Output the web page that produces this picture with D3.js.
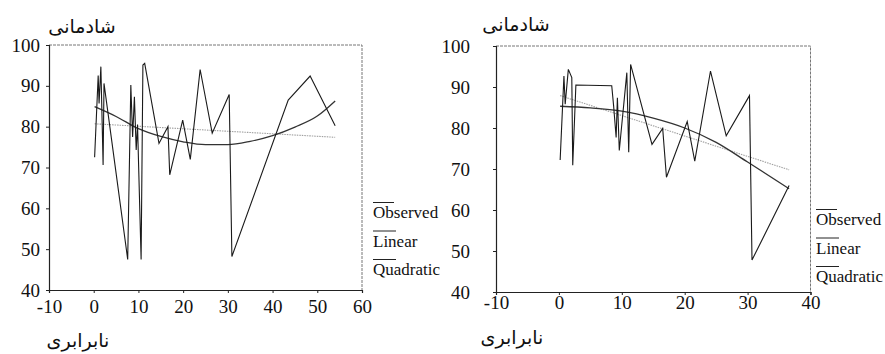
<!DOCTYPE html>
<html>
<head>
<meta charset="utf-8">
<script src="https://cdn.jsdelivr.net/npm/d3@7"></script>
<style>
  body { margin: 0; background: #fff; }
  svg { display: block; }
  .legend text { font-family: "Liberation Serif", "Times New Roman", serif; font-size: 17px; fill: #111; }
  .fa { font-family: "DejaVu Sans", sans-serif; font-size: 19px; fill: #111; }
</style>
</head>
<body>
<div id="chart"></div>
<script>
// tick labels
const yTicks = [40, 50, 60, 70, 80, 90, 100];
const leftXTicks = [-10, 0, 10, 20, 30, 40, 50, 60];
const rightXTicks = [-10, 0, 10, 20, 30, 40];
const legendLabels = ["Observed", "Linear", "Quadratic"];
const yTitle = "شادمانی";
const xTitle = "نابرابری";

// left panel, [x, y]
const leftObserved = [
  [0.2, 72.5], [1.0, 92.5], [1.2, 85.7], [1.6, 94.7], [2.1, 70.6], [2.3, 90.6],
  [7.6, 47.5], [8.3, 90.2], [8.7, 77.5], [9.1, 87.3], [9.5, 74.3], [9.8, 80.5],
  [10.6, 47.5], [11.0, 95.1], [11.4, 95.5], [14.6, 75.9], [16.6, 80.0], [17.0, 68.2],
  [19.9, 81.6], [21.6, 72.0], [23.8, 94.0], [26.5, 78.4], [30.3, 87.9], [30.9, 48.2],
  [43.5, 86.5], [48.4, 92.4], [54.0, 80.2]
];
const leftLinear = [[0.2, 80.7], [54.0, 77.4]];
const leftQuadratic = [
  [0.2, 84.9], [5, 82.5], [10, 79.5], [15, 77.6], [20, 76.3], [25, 75.6],
  [30, 75.6], [35, 76.4], [40, 77.8], [45, 79.9], [50, 82.6], [54.0, 86.3]
];

// right panel
const rightObserved = [
  [0.2, 72.2], [0.8, 92.7], [1.0, 85.8], [1.5, 94.3], [2.05, 92.3], [2.2, 70.9],
  [2.7, 90.5], [8.4, 90.3], [8.7, 85.4], [9.1, 77.7], [9.3, 87.4], [9.6, 74.5],
  [10.8, 93.5], [11.1, 74.1], [11.4, 95.5], [14.8, 76.0], [16.5, 79.9], [17.1, 68.0],
  [20.4, 81.6], [21.6, 71.9], [24.1, 93.9], [26.6, 78.1], [30.3, 87.9], [30.7, 47.8],
  [36.6, 66.0]
];
const rightLinear = [[0.2, 87.9], [36.6, 69.8]];
const rightQuadratic = [
  [0.2, 85.3], [5, 84.9], [10, 84.1], [15, 82.4], [20, 80.0], [25, 76.5],
  [30, 71.7], [36.6, 65.2]
];

const width = 885, height = 354;
const svg = d3.select("#chart").append("svg")
  .attr("width", width)
  .attr("height", height);

function drawPanel(cfg) {
  const x = d3.scaleLinear().domain([cfg.xTicks[0], cfg.xTicks[cfg.xTicks.length - 1]]).range([cfg.left, cfg.right]);
  const y = d3.scaleLinear().domain([40, 100]).range([cfg.bottom, cfg.top]);
  const g = svg.append("g");

  // top / right frame, thin and speckled like the scan
  g.append("path")
    .attr("d", `M${cfg.left},${cfg.top}H${cfg.right}V${cfg.bottom}`)
    .attr("fill", "none")
    .attr("stroke", "#666")
    .attr("stroke-width", 0.9)
    .attr("stroke-dasharray", "3,1");

  // plain hyphen for negatives, as in the scan
  const fmt = d => String(d);
  const xAxis = g.append("g")
    .attr("transform", `translate(0,${cfg.bottom})`)
    .call(d3.axisBottom(x).tickValues(cfg.xTicks).tickSize(3).tickPadding(cfg.xPad).tickFormat(fmt));
  const yAxis = g.append("g")
    .attr("transform", `translate(${cfg.left},0)`)
    .call(d3.axisLeft(y).tickValues(yTicks).tickSize(3).tickPadding(cfg.yPad).tickFormat(fmt));
  [xAxis, yAxis].forEach(a => {
    a.attr("font-family", "Liberation Serif").attr("font-size", 19);
    a.selectAll(".tick text").attr("fill", "#111");
    a.select(".domain").attr("stroke", "#222").attr("stroke-width", 1.2);
    a.selectAll(".tick line").attr("stroke", "#222");
  });

  const line = d3.line().x(d => x(d[0])).y(d => y(d[1]));
  const smooth = d3.line().curve(d3.curveMonotoneX).x(d => x(d[0])).y(d => y(d[1]));

  g.append("path").datum(cfg.linear)
    .attr("d", line)
    .attr("fill", "none")
    .attr("stroke", "#a0a0a0")
    .attr("stroke-width", 1.1)
    .attr("stroke-dasharray", "1.5,1");

  g.append("path").datum(cfg.quadratic)
    .attr("d", smooth)
    .attr("fill", "none")
    .attr("stroke", "#333")
    .attr("stroke-width", 1.3);

  g.append("path").datum(cfg.observed)
    .attr("d", line)
    .attr("fill", "none")
    .attr("stroke", "#1a1a1a")
    .attr("stroke-width", 1.1)
    .attr("stroke-linejoin", "miter");

  // legend: label with a short rule above
  const leg = g.append("g").attr("class", "legend")
    .attr("transform", `translate(${cfg.legendX},${cfg.legendY})`);
  legendLabels.forEach((lab, i) => {
    const row = leg.append("g").attr("transform", `translate(0,${i * cfg.legendStep})`);
    row.append("line")
      .attr("x1", 0).attr("x2", lab === "Observed" ? 21 : 23)
      .attr("y1", 0).attr("y2", 0)
      .attr("stroke", "#222").attr("stroke-width", 1);
    row.append("text").attr("x", 0).attr("y", 15.5).text(lab);
  });

  g.append("text").attr("class", "fa")
    .attr("x", cfg.titleX).attr("y", cfg.titleY)
    .attr("text-anchor", "middle")
    .attr("direction", "rtl")
    .text(yTitle);
  g.append("text").attr("class", "fa")
    .attr("x", cfg.xTitleX).attr("y", cfg.xTitleY)
    .attr("text-anchor", "middle")
    .attr("direction", "rtl")
    .text(xTitle);
}

drawPanel({
  left: 49, right: 362, top: 45, bottom: 290,
  xTicks: leftXTicks, xPad: 7, yPad: 6,
  observed: leftObserved, linear: leftLinear, quadratic: leftQuadratic,
  legendX: 373, legendY: 202.5, legendStep: 28.5,
  titleX: 82, titleY: 33, xTitleX: 78, xTitleY: 347
});

drawPanel({
  left: 496, right: 810.5, top: 46, bottom: 292,
  xTicks: rightXTicks, xPad: 1, yPad: 23,
  observed: rightObserved, linear: rightLinear, quadratic: rightQuadratic,
  legendX: 816, legendY: 209.5, legendStep: 28.5,
  titleX: 516, titleY: 31, xTitleX: 512, xTitleY: 344
});
</script>
</body>
</html>
